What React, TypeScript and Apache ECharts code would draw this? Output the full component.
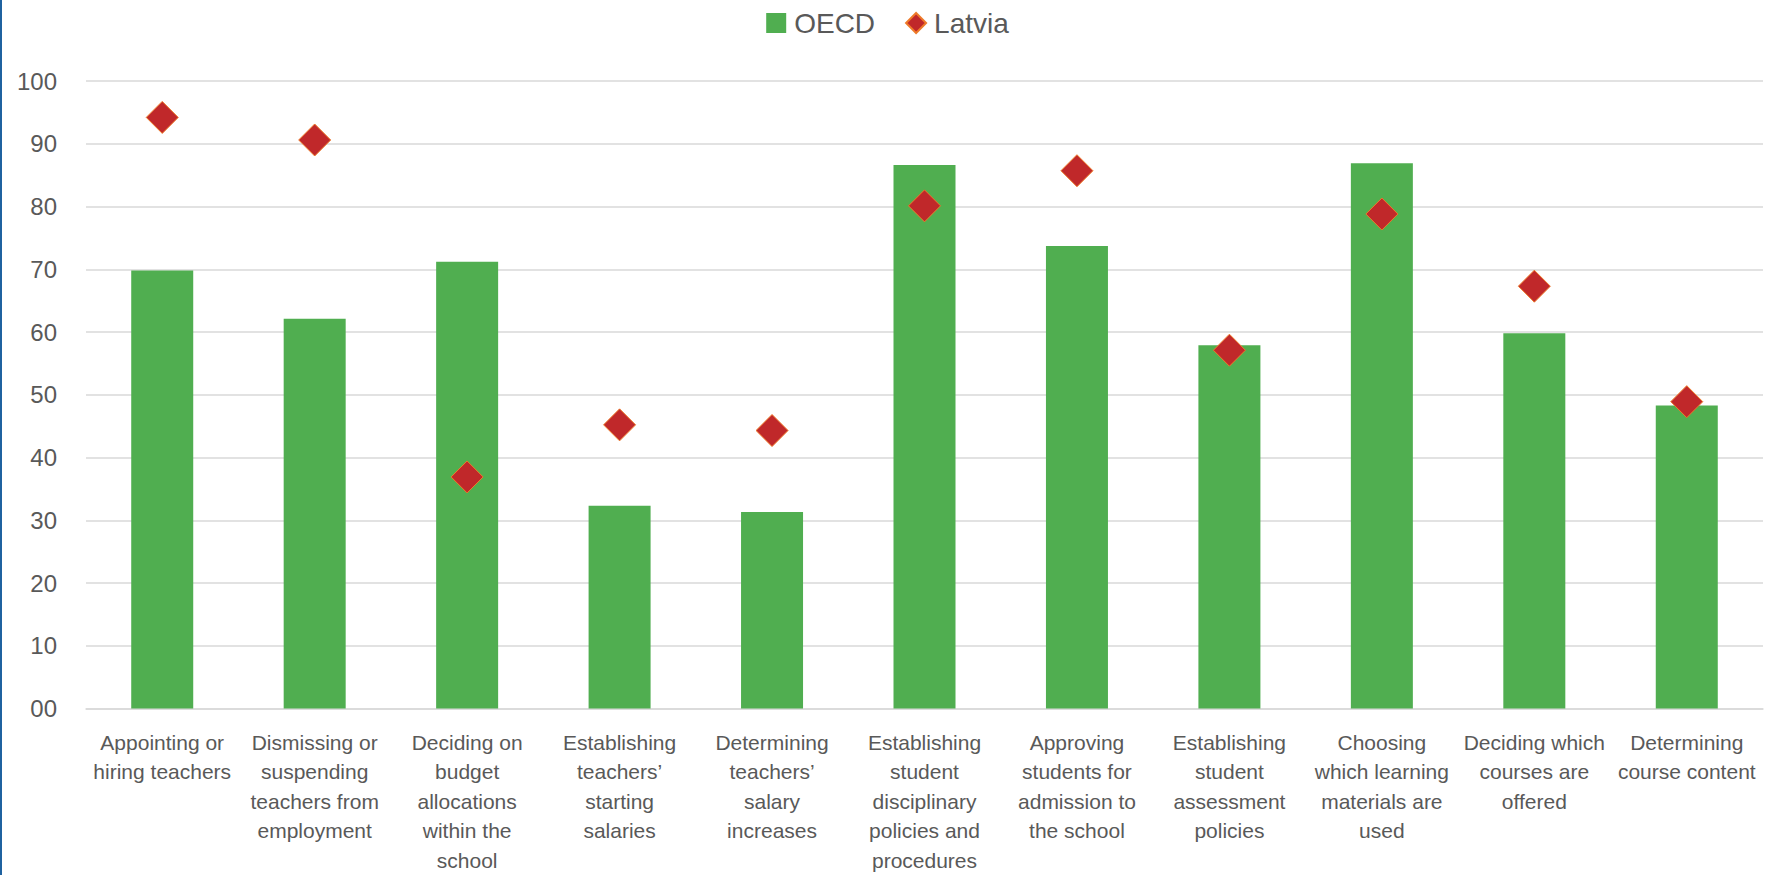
import React, { useEffect, useRef } from "react";
import * as echarts from "echarts";

const categories: string[] = [
  "Appointing or\nhiring teachers",
  "Dismissing or\nsuspending\nteachers from\nemployment",
  "Deciding on\nbudget\nallocations\nwithin the\nschool",
  "Establishing\nteachers’\nstarting\nsalaries",
  "Determining\nteachers’\nsalary\nincreases",
  "Establishing\nstudent\ndisciplinary\npolicies and\nprocedures",
  "Approving\nstudents for\nadmission to\nthe school",
  "Establishing\nstudent\nassessment\npolicies",
  "Choosing\nwhich learning\nmaterials are\nused",
  "Deciding which\ncourses are\noffered",
  "Determining\ncourse content",
];

const oecdValues: number[] = [69.8, 62.1, 71.2, 32.3, 31.3, 86.6, 73.7, 57.9, 86.9, 59.8, 48.3];
const latviaValues: number[] = [94.2, 90.6, 36.9, 45.2, 44.3, 80.1, 85.7, 57.1, 78.8, 67.3, 48.9];

const yMin = 0;
const yMax = 100;
const yInterval = 10;

const FONT = "'Liberation Sans', Arial, sans-serif";
const TEXT_COLOR = "#595959";

export default function App() {
  const ref = useRef<HTMLDivElement>(null);

  useEffect(() => {
    document.body.style.margin = "0";
    if (!ref.current) return;
    const chart = echarts.init(ref.current, undefined, { renderer: "svg" });
    chart.setOption({
      animation: false,
      backgroundColor: "#ffffff",
      textStyle: { fontFamily: FONT },
      legend: {
        top: 4,
        left: "center",
        itemWidth: 20,
        itemHeight: 20,
        itemGap: 30,
        textStyle: {
          fontFamily: FONT,
          fontSize: 28,
          color: TEXT_COLOR,
          padding: [0, 0, 0, 3],
        },
        data: [
          { name: "OECD", icon: "rect" },
          { name: "Latvia", icon: "diamond" },
        ],
      },
      grid: {
        left: 86,
        right: 12,
        top: 81,
        bottom: 154,
        containLabel: false,
      },
      xAxis: {
        type: "category",
        data: categories,
        axisLine: { show: true, lineStyle: { color: "#d9d9d9", width: 1.5 } },
        axisTick: { show: false },
        axisLabel: {
          interval: 0,
          margin: 19,
          fontFamily: FONT,
          fontSize: 21,
          lineHeight: 29.5,
          color: TEXT_COLOR,
          align: "center",
          verticalAlign: "top",
        },
      },
      yAxis: {
        type: "value",
        min: yMin,
        max: yMax,
        interval: yInterval,
        axisLine: { show: false },
        axisTick: { show: false },
        splitLine: { show: true, lineStyle: { color: "#d9d9d9", width: 1.5 } },
        axisLabel: {
          margin: 29,
          fontFamily: FONT,
          fontSize: 24,
          color: TEXT_COLOR,
          formatter: (v: number) => (v === 0 ? "00" : String(v)),
        },
      },
      series: [
        {
          name: "OECD",
          type: "bar",
          data: oecdValues,
          barWidth: 62,
          itemStyle: { color: "#50AE50" },
        },
        {
          name: "Latvia",
          type: "scatter",
          data: latviaValues,
          symbol: "diamond",
          symbolSize: 32,
          itemStyle: { color: "#C0282A", borderColor: "#EE7A2A", borderWidth: 1, opacity: 1 },
          z: 5,
        },
      ],
    });
    return () => chart.dispose();
  }, []);

  return (
    <div
      style={{
        position: "fixed",
        left: 0,
        top: 0,
        width: 1775,
        height: 875,
        background: "#fff",
      }}
    >
      <div ref={ref} style={{ position: "absolute", left: 0, top: 0, width: 1775, height: 875 }} />
      <div
        style={{
          position: "absolute",
          left: 0,
          top: 0,
          width: 2,
          height: 875,
          background: "#1F62A0",
        }}
      />
    </div>
  );
}
